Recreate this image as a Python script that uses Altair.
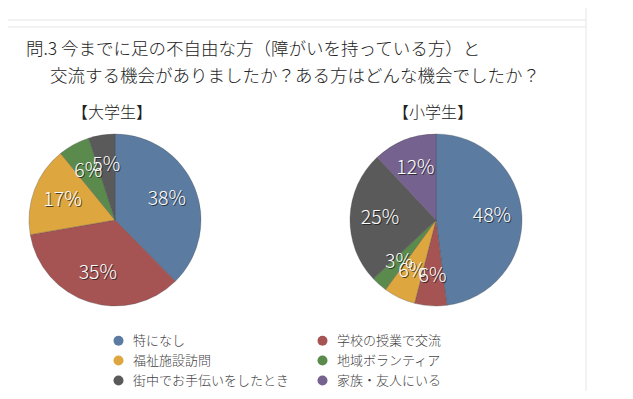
import altair as alt
import pandas as pd

# ---- data ----
categories = ["特になし", "学校の授業で交流", "福祉施設訪問", "地域ボランティア",
              "街中でお手伝いをしたとき", "家族・友人にいる"]
colors = ["#5b7ba1", "#a65453", "#dea63f", "#5b8b4c", "#5a5a5a", "#76628f"]
univ_values = [38, 35, 17, 6, 5, 0]
elem_values = [48, 6, 6, 3, 25, 12]
pie_titles = ["【大学生】", "【小学生】"]
title_lines = ["問.3 今までに足の不自由な方（障がいを持っている方）と",
               "交流する機会がありましたか？ある方はどんな機会でしたか？"]
# legend is filled column by column: order so rows read pairwise
legend_order = [0, 2, 4, 1, 3, 5]

JP = "Noto Sans CJK JP"
W, H = 617, 383
R = 86
LABEL_R = 56
centers = [(107, 212), (428, 212)]

legend_domain = [categories[i] for i in legend_order]
legend_range = [colors[i] for i in legend_order]
color_scale = alt.Scale(domain=legend_domain, range=legend_range)


def pie(values, cx, cy, show_legend):
    df = pd.DataFrame({
        "cat": categories,
        "value": values,
        "idx": list(range(len(categories))),
    })
    df = df[df["value"] > 0]
    df["label"] = df["value"].astype(str) + "%"
    base = alt.Chart(df).encode(
        theta=alt.Theta("value:Q", stack="normalize"),
        order=alt.Order("idx:Q"),
        x=alt.value(cx),
        y=alt.value(cy),
    )
    legend = alt.Legend(
        title=None, orient="none", legendX=104, legendY=326, columns=2,
        columnPadding=26, rowPadding=6, symbolType="circle", symbolSize=100,
        labelFont=JP, labelFontSize=13, labelFontWeight=300,
        labelColor="#444444", labelOffset=8, symbolStrokeWidth=0,
    ) if show_legend else None
    color_enc = alt.Color("cat:N", scale=color_scale, legend=legend,
                          sort=legend_domain)
    arcs = base.mark_arc(outerRadius=R, stroke="#444444", strokeWidth=0.3).encode(color=color_enc)
    shadow = base.mark_text(radius=LABEL_R, font=JP, fontSize=19.5, fontWeight=300,
                            color="#1a1a1a", opacity=0.75, dx=1, dy=1).encode(text="label:N")
    text = base.mark_text(radius=LABEL_R, font=JP, fontSize=19.5, fontWeight=300,
                          color="white").encode(text="label:N")
    return arcs + shadow + text


one = pd.DataFrame({"k": [0]})


def label(txt, x, y, size, align):
    return alt.Chart(one).mark_text(text=txt, font=JP, fontSize=size, fontWeight=300,
                                    align=align, baseline="middle", color="#222222").encode(
        x=alt.value(x), y=alt.value(y))


title1 = label(title_lines[0], 18, 42, 17.5, "left")
title2 = label(title_lines[1], 42, 69, 17.5, "left")
sub1 = label(pie_titles[0], 104, 105, 16, "center")
sub2 = label(pie_titles[1], 425, 105, 16, "center")

# page frame lines from the screenshot
hline1 = alt.Chart(one).mark_rule(color="#e6e6e6", strokeWidth=1).encode(
    x=alt.value(0), x2=alt.value(578), y=alt.value(12))
hline2 = alt.Chart(one).mark_rule(color="#e6e6e6", strokeWidth=1).encode(
    x=alt.value(0), x2=alt.value(578), y=alt.value(19))
vline = alt.Chart(one).mark_rule(color="#e6e6e6", strokeWidth=1).encode(
    x=alt.value(578), y=alt.value(-8), y2=alt.value(H))

chart = alt.layer(
    hline1, hline2, vline,
    title1, title2, sub1, sub2,
    pie(univ_values, *centers[0], True),
    pie(elem_values, *centers[1], False),
).properties(
    width=W, height=H, autosize=alt.AutoSizeParams(type="none"), padding=0,
    background="white",
).configure_view(stroke=None)

chart.save("out.html", embed_options={"renderer": "svg", "actions": False})
